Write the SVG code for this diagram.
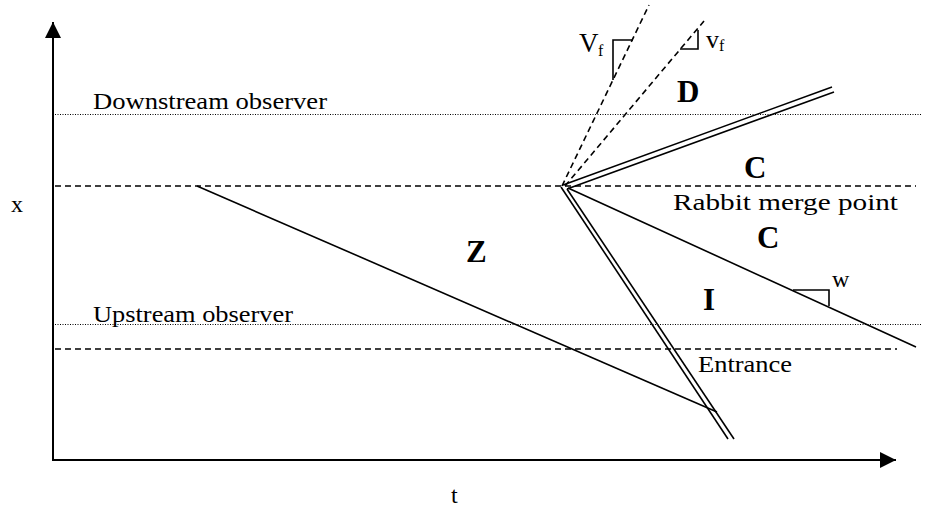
<svg xmlns="http://www.w3.org/2000/svg" width="926" height="511" viewBox="0 0 926 511">
<style>
.t{font-family:"Liberation Serif","Times New Roman",serif;font-size:24px;fill:#000}
.b{font-family:"Liberation Serif","Times New Roman",serif;font-size:31px;font-weight:bold;fill:#000}
.ln{stroke:#000;stroke-width:1.6;fill:none}
.ax{stroke:#000;stroke-width:2;fill:none}
.dash{stroke:#000;stroke-width:1.6;stroke-dasharray:6,4;fill:none}
.dot{stroke:#000;stroke-width:1;stroke-dasharray:1,1.5;fill:none}
</style>
<defs>
<marker id="arr" viewBox="0 0 16 16" refX="16" refY="8" markerWidth="16" markerHeight="16" markerUnits="userSpaceOnUse" orient="auto">
<path d="M0,0 L16,8 L0,16 Z" fill="#000"/>
</marker>
</defs>
<rect width="926" height="511" fill="#fff"/>
<g id="axes">
<line class="ax" x1="53" y1="461" x2="53" y2="22" marker-end="url(#arr)"/>
<line class="ax" x1="52" y1="460" x2="896" y2="460" marker-end="url(#arr)"/>
<text class="t" x="11" y="212">x</text>
<text class="t" x="451" y="503">t</text>
</g>
<g id="reference-lines">
<line class="dot" x1="55" y1="114.5" x2="921" y2="114.5"/>
<line class="dash" x1="55" y1="186" x2="916" y2="186"/>
<line class="dot" x1="55" y1="324.5" x2="921" y2="324.5"/>
<line class="dash" x1="55" y1="349" x2="897" y2="349"/>
</g>
<g id="labels">
<text class="t" x="93" y="109" textLength="234" lengthAdjust="spacingAndGlyphs">Downstream observer</text>
<text class="t" x="93" y="322" textLength="200" lengthAdjust="spacingAndGlyphs">Upstream observer</text>
<text class="t" x="673" y="210" textLength="225" lengthAdjust="spacingAndGlyphs">Rabbit merge point</text>
<text class="t" x="698" y="372" textLength="94" lengthAdjust="spacingAndGlyphs">Entrance</text>
</g>
<g id="regions">
<text class="b" x="677" y="102">D</text>
<text class="b" x="744" y="178">C</text>
<text class="b" x="757" y="248">C</text>
<text class="b" x="466" y="262">Z</text>
<text class="b" x="703" y="310">I</text>
</g>
<g id="connectors">
<line class="dash" x1="562" y1="186" x2="649" y2="5"/>
<line class="dash" x1="565" y1="186" x2="704" y2="21"/>
<line class="ln" x1="563" y1="185" x2="832" y2="87"/>
<line class="ln" x1="567" y1="189" x2="834" y2="92"/>
<line class="ln" x1="561" y1="187" x2="728" y2="439"/>
<line class="ln" x1="567" y1="189" x2="734" y2="439"/>
<line class="ln" x1="568" y1="188" x2="916" y2="347"/>
<line class="ln" x1="197" y1="186" x2="717" y2="412"/>
</g>
<g id="slopes">
<polyline class="ln" points="613,80 613,40 633,40"/>
<text class="t" x="579" y="52" style="font-size:27px">V</text>
<text class="t" x="598" y="56" style="font-size:16px">f</text>
<polyline class="ln" points="698,30 698,49 680,49"/>
<text class="t" x="706" y="48" style="font-size:26px">v</text>
<text class="t" x="719" y="51" style="font-size:16px">f</text>
<polyline class="ln" points="793,290 829,290 829,306"/>
<text class="t" x="832" y="287" style="font-size:24px">w</text>
</g>
</svg>
